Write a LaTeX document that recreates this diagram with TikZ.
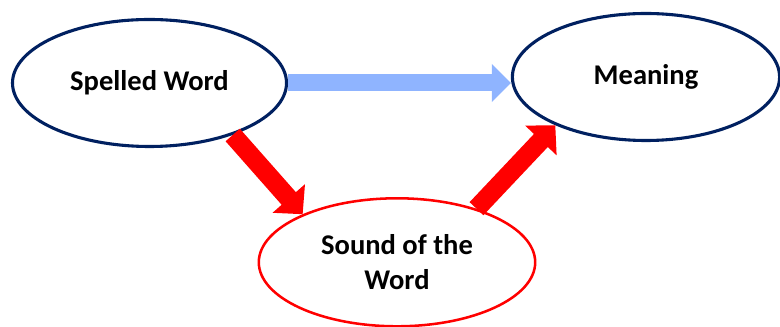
\documentclass[tikz,border=0pt]{standalone}
\usepackage{fontspec}
\setmainfont{Carlito}
\usetikzlibrary{arrows.meta,positioning,calc,shapes.geometric}
\definecolor{navy}{HTML}{002060}
\definecolor{skyarrow}{HTML}{8FB4FF}

\begin{document}
\begin{tikzpicture}[line join=miter,
  bub/.style={ellipse,draw=navy,line width=2.2pt,fill=white,inner sep=0pt,
    minimum width=6.85cm,minimum height=3.175cm,align=center,
    font=\fontsize{20.3}{25}\selectfont\bfseries},
  redarr/.style={red,line width=0.475cm,-{Triangle[length=0.525cm,width=1.05cm]}},
  bluarr/.style={skyarrow,line width=0.425cm,-{Triangle[length=0.475cm,width=0.925cm]}}]
\useasboundingbox (0,0) rectangle (19.5,8.175);
\node[bub] (sw) at (3.7375,6.1) {Spelled Word};
\node[bub,minimum width=6.68cm] (mn) at (16.15,6.25) {Meaning\vphantom{W}};
\node[bub,draw=red,line width=1.8pt,minimum width=6.91cm,minimum height=3.2cm] (snd) at (9.925,1.6175) {Sound of the\\Word};
\draw[bluarr] (sw.east) -- (sw.east -| mn.west);
\draw[redarr] (sw.-32) -- (snd.153);
\draw[redarr] (snd.34) -- (mn.208);
\end{tikzpicture}
\end{document}
